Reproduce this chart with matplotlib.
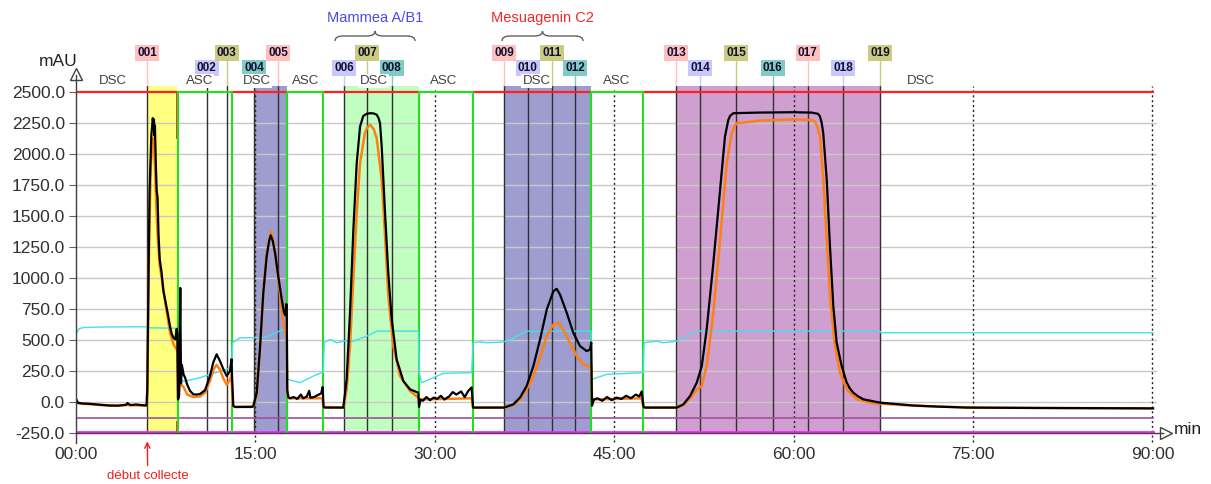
import matplotlib.pyplot as plt
from matplotlib.path import Path
from matplotlib.patches import PathPatch

plt.rcParams['font.family'] = ['Liberation Sans', 'DejaVu Sans']

# ---- data (time in min, signal in mAU) ----
black_t = [0, 0.15, 0.5, 1.2, 2.0, 2.8, 3.5, 4.2, 4.3, 4.45, 4.6, 5.0, 5.5, 5.9,
           5.96, 6.05, 6.15, 6.3, 6.42, 6.47, 6.52, 6.56, 6.6, 6.68, 6.75, 6.82, 6.9, 7.0, 7.15,
           7.3, 7.5, 7.7, 7.86, 8.0, 8.14, 8.3, 8.42, 8.47, 8.53, 8.62, 8.72, 8.78, 8.85,
           9.0, 9.11, 9.3, 9.53, 9.81, 10.1, 10.37, 10.79, 11.2, 11.48, 11.76, 12.04, 12.32,
           12.6, 12.88, 13.0, 13.05, 13.15, 13.3, 14.69, 14.82, 15.11, 15.38, 15.66, 15.94,
           16.15, 16.28, 16.45, 16.64, 16.91, 17.2, 17.39, 17.5, 17.58, 17.62, 17.66, 17.75,
           17.9, 18.2, 18.5, 18.8, 19.0, 19.3, 19.5, 19.6, 19.9, 20.2, 20.5, 20.62, 20.7,
           20.8, 22.35, 22.63, 22.91, 23.19, 23.47, 23.75, 24.02, 24.3, 24.58, 24.9, 25.14,
           25.3, 25.42, 25.56, 25.84, 26.11, 26.4, 26.81, 27.37, 27.93, 28.62, 28.68, 28.8,
           29.0, 29.3, 29.6, 29.9, 30.2, 30.5, 30.8, 31.2, 31.5, 31.8, 32.2, 32.5, 32.8,
           33.08, 33.2, 35.79, 36.56, 37.12, 37.68, 38.24, 38.8, 39.36, 39.91, 40.19, 40.47,
           41.03, 41.58, 42.14, 42.7, 42.98, 43.08, 43.14, 43.3, 43.6, 44.0, 44.4, 44.8, 45.2,
           45.6, 46.0, 46.4, 46.8, 47.1, 47.3, 47.45, 47.6, 50.23, 50.78, 51.34, 51.9, 52.32,
           52.73, 53.29, 53.85, 54.26, 54.54, 54.7, 54.96, 57.0, 60.0, 61.5, 62.05, 62.21,
           62.35, 62.48, 62.77, 63.04, 63.32, 63.6, 64.02, 64.44, 64.7, 64.99, 65.4, 65.83,
           67.22, 70.0, 72.0, 74.5, 80.0, 90.05]
black_v = [25, -5, -12, -15, -22, -28, -30, -22, -8, -20, -25, -20, -25, -28,
           100, 900, 1700, 2150, 2290, 2240, 2280, 2150, 2230, 1900, 1700, 1650, 1350, 1150, 1050,
           900, 800, 700, 610, 550, 520, 505, 590, 550, 20, 50, 920, 150, 300,
           220, 200, 140, 90, 62, 60, 65, 95, 210, 320, 385, 330, 265,
           210, 250, 345, 200, -30, -40, -40, -35, 75, 430, 880, 1175,
           1300, 1345, 1300, 1205, 1015, 830, 722, 700, 790, 780, 100, 40,
           30, 40, 25, 60, 30, 45, 90, 35, 40, 55, 70, 120, -40,
           -45, -45, 183, 720, 1390, 1927, 2222, 2308, 2325, 2330, 2328, 2318,
           2290, 2249, 2061, 1525, 1042, 666, 344, 169, 102, 75, -40, 20,
           10, 40, 15, 35, 25, 50, 20, 45, 80, 60, 85, 40, 90,
           118, -45, -45, -19, 35, 129, 290, 505, 746, 893, 913, 867,
           720, 559, 451, 411, 424, 480, -30, 20, 30, 10, 40, 15, 35,
           25, 50, 30, 60, 45, 85, -40, -45, -45, -19, 48, 156, 290,
           585, 1122, 1712, 2141, 2276, 2310, 2330, 2335, 2338, 2335, 2325, 2302,
           2250, 2168, 1793, 1256, 773, 478, 290, 156, 110, 75, 45, 22,
           -5, -28, -37, -45, -48, -51]

orange_t = [0, 0.15, 1.2, 2.8, 4.2, 5.5, 5.9, 5.96, 6.1, 6.25, 6.4, 6.5, 6.6, 6.7, 6.85,
            7.0, 7.2, 7.5, 7.86, 8.14, 8.3, 8.47, 8.53, 8.7, 9.0, 9.3, 9.81, 10.37, 10.79,
            11.2, 11.48, 11.76, 12.04, 12.32, 12.6, 12.88, 13.0, 13.1, 13.3, 14.82, 15.11,
            15.38, 15.66, 15.94, 16.28, 16.45, 16.64, 16.91, 17.2, 17.39, 17.62, 17.66, 17.8,
            20.6, 20.7, 22.35, 22.63, 22.91, 23.19, 23.47, 23.75, 24.15, 24.35, 24.6, 24.9,
            25.14, 25.56, 25.84, 26.11, 26.53, 27.09, 27.93, 28.62, 28.7, 33.1, 33.2, 35.79,
            36.56, 37.12, 37.68, 38.24, 38.8, 39.36, 39.91, 40.33, 40.74, 41.3, 41.87, 42.42,
            42.98, 43.08, 43.14, 47.3, 47.45, 50.23, 50.78, 51.34, 51.9, 52.32, 52.73, 53.29,
            53.85, 54.41, 54.82, 55.05, 55.24, 57.19, 60.0, 61.5, 61.79, 62.0, 62.21, 62.48,
            62.77, 63.04, 63.46, 63.88, 64.44, 65.28, 66.66, 70.0, 75.0, 90.05]
orange_v = [20, -10, -18, -30, -25, -28, -30, 80, 1200, 1900, 2100, 2130, 1900, 1600, 1300,
            1100, 980, 780, 560, 470, 440, 420, 30, 150, 120, 60, 40, 45, 75,
            170, 260, 300, 260, 190, 140, 180, 220, -30, -40, -35, 60,
            420, 890, 1190, 1375, 1320, 1210, 990, 760, 600, 545, 80, 30,
            30, -40, -45, 100, 451, 988, 1525, 1927, 2168, 2215, 2236, 2200,
            2128, 1793, 1336, 853, 451, 209, 89, 35, 20, 30, -45, -45,
            -25, 20, 102, 209, 357, 531, 625, 639, 585, 478, 370, 303,
            285, 290, 20, 30, -45, -45, -25, 30, 100, 129, 290, 720,
            1310, 1927, 2168, 2225, 2249, 2270, 2280, 2275, 2262, 2220, 2141, 1793,
            1310, 853, 451, 237, 102, 22, -10, -30, -45, -52]

cyan_t = [0, 0.25, 0.6, 2, 5.85, 6.0, 8.42, 8.5, 8.55, 9.11, 10.37, 11.2, 12.6, 13.02,
          13.1, 13.71, 14.82, 15.94, 17.0, 17.4, 17.62, 17.7, 18.73, 19.84, 20.54, 20.68,
          20.75, 21.24, 21.8, 22.35, 23.19, 24.31, 25.14, 28.62, 28.7, 28.9, 29.87, 30.71,
          33.08, 33.2, 33.78, 34.34, 35.45, 36.01, 36.85, 37.68, 43.06, 43.12, 44.37, 47.44,
          47.5, 48.55, 49.11, 50.23, 51.06, 51.9, 67.22, 67.3, 90.05]
cyan_v = [545, 591, 600, 605, 607, 599, 595, 585, 170, 169, 196, 223, 263, 290,
          478, 518, 518, 523, 572, 585, 590, 183, 156, 209, 237, 240,
          478, 505, 478, 491, 491, 531, 572, 572, 237, 156, 196, 231,
          237, 478, 485, 478, 482, 491, 531, 572, 572, 183, 223, 237,
          478, 491, 478, 491, 531, 572, 572, 559, 559]

# fractions
frac_names = ['%03d' % i for i in range(1, 20)]
frac_t = [5.96, 10.93, 12.6, 14.9, 16.92, 22.4, 24.36, 26.4, 35.79, 37.77, 39.8, 41.75,
          50.17, 52.2, 55.18, 58.25, 61.18, 64.16, 67.22]
shade_start = [5.96, 14.9, 22.4, 35.79, 50.17]
shade_end = [8.47, 17.62, 28.7, 43.06, 67.22]
shade_colors = ['#ffff80', '#9d9dcf', '#c0ffc0', '#9d9dcf', '#cf9fcf']

# valve modes
dsc_start = [0, 13.02, 20.68, 33.17, 47.44]
dsc_end = [8.47, 17.62, 28.7, 43.06, 90.05]
asc_start = [8.53, 17.62, 28.7, 43.06]
asc_end = [13.02, 20.68, 33.17, 47.44]
red_drop_t = [8.45, 20.68, 33.17, 47.44]
red_drop_v = [2130, 2150, 2440, 2440]
mode_labels = ['DSC', 'ASC', 'DSC', 'ASC', 'DSC', 'ASC', 'DSC', 'ASC', 'DSC']
mode_label_t = [3.1, 10.3, 15.1, 19.2, 24.9, 30.7, 38.5, 45.2, 70.6]

yticks = list(range(-250, 2501, 250))
xticks = [0, 15, 30, 45, 60, 75, 90]
xtick_labels = ['00:00', '15:00', '30:00', '45:00', '60:00', '75:00', '90:00']

W, H = 1211, 484
fig = plt.figure(figsize=(W / 100, H / 100), dpi=100)
ax = fig.add_axes([76 / W, (H - 433) / H, (1157.2 - 76) / W, (433 - 84.7) / H])
ax.set_xlim(0, 90.4)
ax.set_ylim(-250, 2560)
for s in ax.spines.values():
    s.set_visible(False)


def fy(y):
    # pixel row -> axes fraction
    return (433 - y) / 348.3


def px(x, y):
    return x / W, 1 - y / H


# shading
for a, b, c in zip(shade_start, shade_end, shade_colors):
    ax.fill_between([a, b], -250, 2550, color=c, lw=0, zorder=0)

# grid
for v in yticks[1:-1]:
    ax.plot([0, 90.35], [v, v], color='#c8c8c8', lw=1, zorder=1)

# dotted time lines
for t in xticks[1:]:
    ax.plot([t, t], [-320, 2550], color='#202020', lw=1, ls=(0, (1.5, 2)), zorder=2, clip_on=False)

# fraction lines
for t in frac_t:
    ax.plot([t, t], [-250, 2550], color='#303030', lw=1, zorder=2)

# baseline lines
ax.plot([0, 90.05], [-130, -130], color='#a050a0', lw=1.2, zorder=3)
ax.plot([0, 90.05], [-245, -245], color='#ff20ff', lw=2, zorder=3)

# valve mode lines
for a, b in zip(dsc_start, dsc_end):
    ax.plot([a, b], [2500, 2500], color='#ff2020', lw=1.6, zorder=4)
for t, v in zip(red_drop_t, red_drop_v):
    ax.plot([t, t], [2500, v], color='#ff2020', lw=1.3, zorder=4)
    ax.plot([t, t], [-245, -160], color='#ff2020', lw=1.3, zorder=4)
for a, b in zip(asc_start, asc_end):
    ax.plot([a, a, b, b], [-250, 2500, 2500, -250], color='#20e020', lw=1.5, zorder=4)

# signals
ax.plot(cyan_t, cyan_v, color='#40e0f0', lw=1, zorder=5)
ax.plot(orange_t, orange_v, color='#ff8010', lw=1.8, zorder=6)
ax.plot(black_t, black_v, color='#000000', lw=1.6, zorder=7)

# axes
ax.plot([0, 0], [-330, 2640], color='#404040', lw=1, clip_on=False, zorder=8)
ax.plot([0, 90.9], [-250, -250], color='#404040', lw=1, clip_on=False, zorder=8)
ax.plot([0], [2650], marker='^', ms=9, mfc='white', mec='#404040', mew=1, clip_on=False)
ax.plot([91.1], [-250], marker='>', ms=9, mfc='white', mec='#404040', mew=1, clip_on=False)

ax.set_yticks(yticks)
ax.set_yticklabels(['%.1f' % v for v in yticks])
ax.set_xticks(xticks)
ax.set_xticklabels(xtick_labels)
ax.tick_params(axis='y', length=5, color='#606060', pad=3, labelsize=12.5, labelcolor='#303030')
ax.tick_params(axis='x', length=0, pad=10, labelsize=12.5, labelcolor='#303030')

# mode labels
for lab, t in zip(mode_labels, mode_label_t):
    ax.text(t, fy(81), lab, transform=ax.get_xaxis_transform(), ha='center', va='center',
            fontsize=9.5, color='#404040', zorder=9,
            bbox=dict(boxstyle='square,pad=0.1', fc='white', ec='none'))

# fraction labels
tag_colors = ['#ffc0c0', '#c8c8ff', '#cccc80', '#80ccc4']
for i, (name, t) in enumerate(zip(frac_names, frac_t)):
    c = tag_colors[i % 4]
    ly = 53 if i % 2 == 0 else 68
    ax.plot([t, t], [fy(ly + 7), fy(85)], transform=ax.get_xaxis_transform(), color=c,
            lw=1, clip_on=False)
    ax.text(t, fy(ly), name, transform=ax.get_xaxis_transform(), ha='center', va='center',
            fontsize=8.5, fontweight='bold', color='#101030',
            bbox=dict(boxstyle='square,pad=0.18', fc=c, ec='none'))

# compound braces
def brace(x0, x1, y):
    xm = (x0 + x1) / 2
    verts = [(x0, y + 5), (x0, y), (x0 + 8, y), (xm - 8, y), (xm, y), (xm, y - 5),
             (xm, y), (xm + 8, y), (x1 - 8, y), (x1, y), (x1, y + 5)]
    codes = [Path.MOVETO, Path.CURVE3, Path.CURVE3, Path.LINETO, Path.CURVE3, Path.CURVE3,
             Path.CURVE3, Path.CURVE3, Path.LINETO, Path.CURVE3, Path.CURVE3]
    verts = [px(x, yy) for x, yy in verts]
    fig.patches.append(PathPatch(Path(verts, codes), transform=fig.transFigure,
                                 fill=False, ec='#606060', lw=1))


brace(335, 415, 36)
brace(502, 583, 36)
fig.text(*px(375, 18), 'Mammea A/B1', color='#4848f0', fontsize=10.5, ha='center', va='center')
fig.text(*px(542, 18), 'Mesuagenin C2', color='#f02828', fontsize=10.5, ha='center', va='center')

fig.text(*px(58, 62), 'mAU', fontsize=12.5, color='#202020', ha='center', va='center')
fig.text(*px(1188, 430), 'min', fontsize=12.5, color='#202020', ha='center', va='center')

ax.annotate('début collecte', xy=(5.96, -318), xytext=(6.0, -595), ha='center', va='center',
            color='#f02020', fontsize=9.5, annotation_clip=False,
            arrowprops=dict(arrowstyle='->', color='#f02020', lw=1, shrinkA=1, shrinkB=0))

fig.savefig('out.png', dpi=100)
